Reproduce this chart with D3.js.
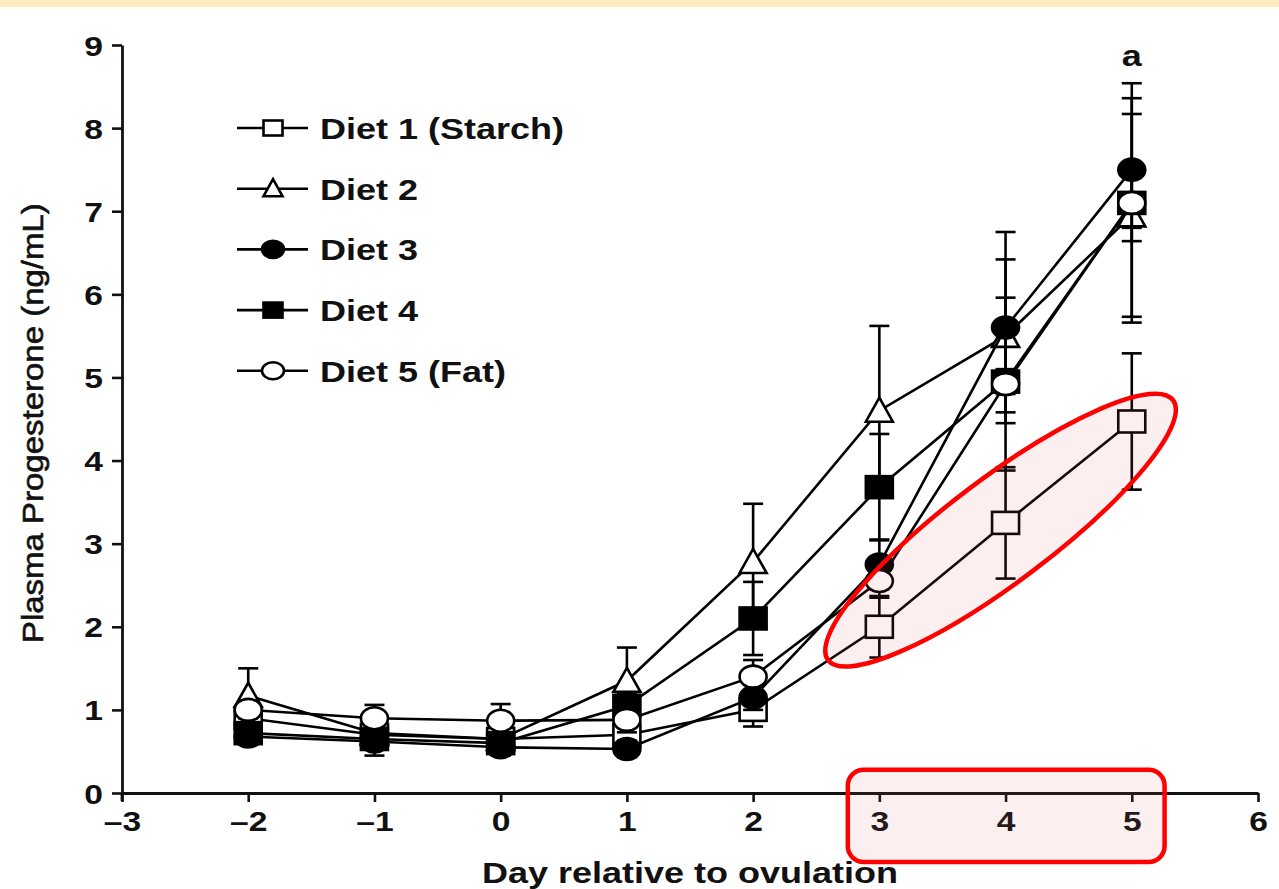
<!DOCTYPE html>
<html>
<head>
<meta charset="utf-8">
<script src="https://cdn.jsdelivr.net/npm/d3@7/dist/d3.min.js"></script>
<style>
  html, body { margin: 0; padding: 0; background: #fff; }
  svg { display: block; }
  text { font-family: "Liberation Sans", Arial, Helvetica, sans-serif; fill: #111; }
</style>
</head>
<body>
<svg id="chart" width="1279" height="889"></svg>
<script>
// data (mean and SEM, ng/mL)
const days = [-2, -1, 0, 1, 2, 3, 4, 5];
const dietNames = ["Diet 1 (Starch)", "Diet 2", "Diet 3", "Diet 4", "Diet 5 (Fat)"];
const diet1 = [0.90, 0.70, 0.65, 0.70, 1.00, 2.00, 3.25, 4.47];
const diet1Err = [0.10, 0.10, 0.10, 0.10, 0.20, 0.37, 0.67, 0.82];
const diet2 = [1.17, 0.72, 0.65, 1.35, 2.78, 4.60, 5.50, 6.95];
const diet2Err = [0.33, 0.10, 0.10, 0.40, 0.70, 1.02, 0.92, 1.22];
const diet3 = [0.68, 0.62, 0.55, 0.53, 1.15, 2.75, 5.60, 7.50];
const diet3Err = [0.10, 0.17, 0.10, 0.10, 0.15, 0.30, 1.15, 0.86];
const diet4 = [0.72, 0.65, 0.60, 1.05, 2.10, 3.68, 4.95, 7.10];
const diet4Err = [0.10, 0.10, 0.10, 0.15, 0.44, 0.64, 0.15, 0.30];
const diet5 = [1.00, 0.90, 0.87, 0.88, 1.40, 2.55, 4.92, 7.10];
const diet5Err = [0.10, 0.16, 0.20, 0.15, 0.20, 0.20, 1.04, 1.44];
const yTicks = [0, 1, 2, 3, 4, 5, 6, 7, 8, 9];
const xTicks = [-3, -2, -1, 0, 1, 2, 3, 4, 5, 6];

const series = [
  { name: dietNames[0], values: diet1, err: diet1Err, shape: "square", fill: "#fff" },
  { name: dietNames[1], values: diet2, err: diet2Err, shape: "triangle", fill: "#fff" },
  { name: dietNames[2], values: diet3, err: diet3Err, shape: "circle", fill: "#000" },
  { name: dietNames[3], values: diet4, err: diet4Err, shape: "square", fill: "#000" },
  { name: dietNames[4], values: diet5, err: diet5Err, shape: "circle", fill: "#fff" }
];
// drawing order (last on top)
const drawOrder = [1, 0, 3, 2, 4];

const svg = d3.select("#chart");
const SX = 1.2; // the scanned text is a bit wide
const LW = 2.6;

// top band of the slide
svg.append("rect").attr("x", 0).attr("y", 0).attr("width", 1279).attr("height", 7)
  .attr("fill", "#fcebc1");

const x = d3.scaleLinear().domain([-3, 6]).range([122, 1258]);
const y = d3.scaleLinear().domain([0, 9]).range([793, 45]);

function stretch(sel, sx) {
  sel.each(function () {
    const t = d3.select(this);
    const x0 = +t.attr("x") || 0;
    t.attr("x", x0 / sx).attr("transform", `scale(${sx},1)`);
  });
}

// axes
const yAxis = svg.append("g").attr("transform", `translate(${x(-3)},0)`)
  .call(d3.axisLeft(y).tickValues(yTicks).tickSize(10).tickSizeOuter(0).tickPadding(9).tickFormat(d3.format("d")));
const xAxis = svg.append("g").attr("transform", `translate(0,${y(0)})`)
  .call(d3.axisBottom(x).tickValues(xTicks).tickSize(9).tickSizeOuter(0).tickPadding(9).tickFormat(d => d < 0 ? "\u2013" + Math.abs(d) : d));

[yAxis, xAxis].forEach(a => {
  a.select(".domain").attr("stroke", "#111").attr("stroke-width", 2.8);
  a.selectAll(".tick line").attr("stroke", "#111").attr("stroke-width", 2.6);
  a.selectAll(".tick text").style("font-size", "28px").style("font-weight", "700").attr("fill", "#111");
  stretch(a.selectAll(".tick text"), SX);
});
yAxis.selectAll(".tick text").attr("dy", "0.36em");
// y axis runs a little below zero
svg.append("line").attr("x1", x(-3)).attr("x2", x(-3)).attr("y1", y(0)).attr("y2", y(0) + 8)
  .attr("stroke", "#111").attr("stroke-width", 2.8);

// axis titles
svg.append("text")
  .attr("transform", `translate(${x(1.5)},883) scale(${SX},1)`)
  .attr("text-anchor", "middle")
  .style("font-size", "30px").style("font-weight", "700")
  .text("Day relative to ovulation");

svg.append("text")
  .attr("transform", `translate(43,${y(4.45)}) rotate(-90) scale(1.1,1)`)
  .attr("text-anchor", "middle")
  .style("font-size", "30px")
  .attr("stroke", "#111").attr("stroke-width", 0.6)
  .text("Plasma Progesterone (ng/mL)");

// significance letter
svg.append("text")
  .attr("transform", `translate(${x(5)},66) scale(${SX},1)`)
  .attr("text-anchor", "middle")
  .style("font-size", "30px").style("font-weight", "700")
  .text("a");

function marker(g, shape, fill, w, h) {
  if (shape === "square") {
    g.append("rect").attr("x", -w / 2).attr("y", -h / 2).attr("width", w).attr("height", h);
  } else if (shape === "circle") {
    g.append("ellipse").attr("rx", w / 2).attr("ry", h / 2);
  } else {
    g.append("path").attr("d", `M0,${-h / 2 - 2}L${w / 2},${h / 2}L${-w / 2},${h / 2}Z`);
  }
  g.selectAll("*").attr("fill", fill).attr("stroke", "#000").attr("stroke-width", LW);
}

const line = d3.line().x((d, i) => x(days[i])).y(d => y(d));
const plot = svg.append("g");

drawOrder.forEach(k => {
  const s = series[k];
  const g = plot.append("g");
  const pts = s.values.map((v, i) => ({ day: days[i], v: v, e: s.err[i] }));

  // error bars
  const eb = g.selectAll("g.err").data(pts).join("g").attr("class", "err");
  eb.append("line")
    .attr("x1", d => x(d.day)).attr("x2", d => x(d.day))
    .attr("y1", d => y(d.v + d.e)).attr("y2", d => y(d.v - d.e));
  eb.append("line")
    .attr("x1", d => x(d.day) - 10).attr("x2", d => x(d.day) + 10)
    .attr("y1", d => y(d.v + d.e)).attr("y2", d => y(d.v + d.e));
  eb.append("line")
    .attr("x1", d => x(d.day) - 10).attr("x2", d => x(d.day) + 10)
    .attr("y1", d => y(d.v - d.e)).attr("y2", d => y(d.v - d.e));
  eb.selectAll("line").attr("stroke", "#000").attr("stroke-width", LW);

  g.append("path").attr("d", line(s.values))
    .attr("fill", "none").attr("stroke", "#000").attr("stroke-width", LW);

  g.selectAll("g.pt").data(pts).join("g").attr("class", "pt")
    .attr("transform", d => `translate(${x(d.day)},${y(d.v)})`)
    .each(function () { marker(d3.select(this), s.shape, s.fill, 27, 22); });
});

// legend
const legend = svg.append("g").attr("transform", "translate(237,128)");
series.forEach((s, i) => {
  const row = legend.append("g").attr("transform", `translate(0,${i * 60.7})`);
  row.append("line").attr("x1", 0).attr("x2", 71).attr("y1", 0).attr("y2", 0)
    .attr("stroke", "#000").attr("stroke-width", LW);
  const m = row.append("g").attr("transform", "translate(36,0)");
  marker(m, s.shape, s.fill, s.shape === "circle" ? 22 : 19, s.shape === "circle" ? 17 : 15);
  row.append("text")
    .attr("transform", `translate(83,11) scale(${SX},1)`)
    .style("font-size", "30px").style("font-weight", "700")
    .text(s.name);
});

// red highlight marks over the last three days
const hl = svg.append("g");
const ex = (x(3) + x(5)) / 2 - 5, ey = (y(2.0) + y(4.47)) / 2 + 6;
hl.append("ellipse")
  .attr("transform", `translate(${ex},${ey}) rotate(-37)`)
  .attr("rx", 216).attr("ry", 52)
  .attr("fill", "rgba(225,100,100,0.1)").attr("stroke", "#f00").attr("stroke-width", 4.5);
hl.append("rect")
  .attr("x", x(2.75)).attr("y", y(0.28))
  .attr("width", x(5.26) - x(2.75)).attr("height", y(-0.83) - y(0.28))
  .attr("rx", 16)
  .attr("fill", "rgba(225,100,100,0.1)").attr("stroke", "#f00").attr("stroke-width", 4.5);
</script>
</body>
</html>
